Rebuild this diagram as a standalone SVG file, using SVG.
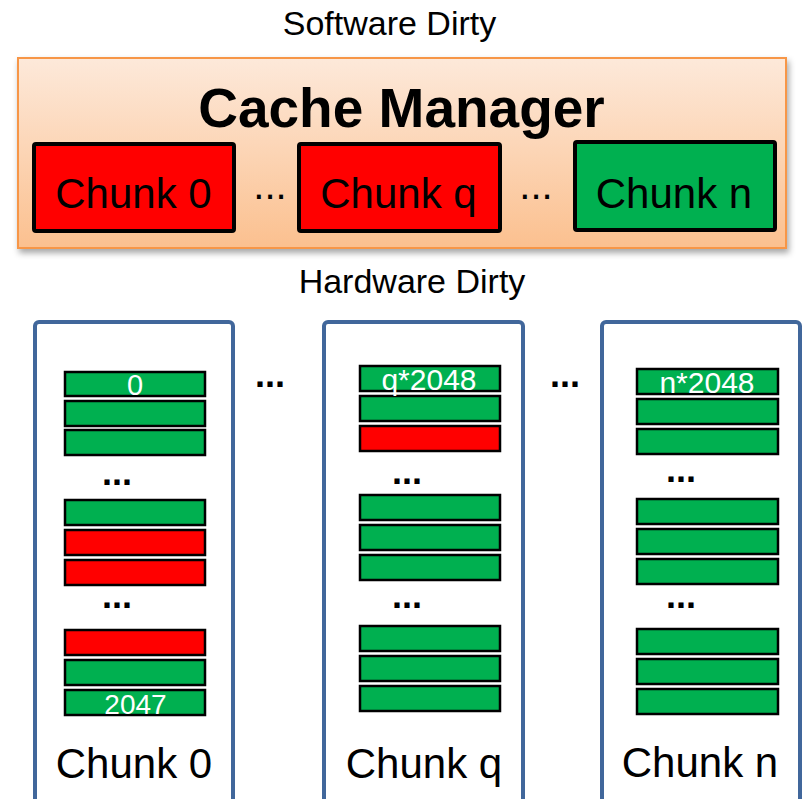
<svg xmlns="http://www.w3.org/2000/svg" width="805" height="799" viewBox="0 0 805 799">
  <defs>
    <linearGradient id="peach" x1="0" y1="0" x2="0" y2="1">
      <stop offset="0" stop-color="#fde9da"/>
      <stop offset="1" stop-color="#fbc08f"/>
    </linearGradient>
    <filter id="shadow" x="-5%" y="-10%" width="110%" height="130%">
      <feGaussianBlur in="SourceAlpha" stdDeviation="3"/>
      <feOffset dx="2" dy="4" result="b"/>
      <feFlood flood-color="#000" flood-opacity="0.35"/>
      <feComposite in2="b" operator="in"/>
      <feMerge><feMergeNode/><feMergeNode in="SourceGraphic"/></feMerge>
    </filter>
    <style>
      text { font-family: "Liberation Sans", Arial, sans-serif; fill: #000; }
      .title { font-size: 34px; text-anchor: middle; }
      .big { font-size: 55px; font-weight: bold; text-anchor: middle; }
      .chunk { font-size: 42px; text-anchor: middle; }
      .dots { font-size: 36px; font-weight: bold; text-anchor: middle; }
      .dots-top { font-size: 40px; text-anchor: middle; }
      .idx { font-size: 29px; text-anchor: middle; fill: #fff; }
      .sw { stroke: #000; stroke-width: 4; }
      .col { fill: #fff; stroke: #41679b; stroke-width: 4; }
      .g { fill: #00b050; stroke: #000; stroke-width: 2.5; }
      .r { fill: #ff0000; stroke: #000; stroke-width: 2.5; }
    </style>
  </defs>

  <rect width="805" height="799" fill="#fff"/>

  <!-- software side -->
  <text class="title" x="389.5" y="35">Software Dirty</text>

  <g id="cache-manager">
    <rect x="18" y="58" width="768" height="190" fill="url(#peach)" stroke="#f79646" stroke-width="2" filter="url(#shadow)"/>
    <text class="big" x="401.5" y="126.5">Cache Manager</text>
  </g>

  <g id="sw-chunk-0">
    <rect class="sw" x="34" y="144" width="200" height="87" rx="2" fill="#ff0000"/>
    <text class="chunk" x="133.5" y="208">Chunk 0</text>
  </g>
  <text class="dots-top" x="270" y="199">...</text>
  <g id="sw-chunk-q">
    <rect class="sw" x="299" y="144" width="201" height="87" rx="2" fill="#ff0000"/>
    <text class="chunk" x="398.5" y="208">Chunk q</text>
  </g>
  <text class="dots-top" x="536" y="199">...</text>
  <g id="sw-chunk-n">
    <rect class="sw" x="575" y="142" width="200" height="88" rx="2" fill="#00b050"/>
    <text class="chunk" x="674" y="208">Chunk n</text>
  </g>

  <!-- hardware side -->
  <text class="title" x="412" y="293">Hardware Dirty</text>

  <g id="hw-chunk-0">
    <rect class="col" x="35" y="322" width="198" height="500" rx="4"/>
    <rect class="g" x="65" y="372" width="140" height="24"/>
    <rect class="g" x="65" y="401" width="140" height="25"/>
    <rect class="g" x="65" y="430" width="140" height="25"/>
    <text class="idx" x="135" y="395">0</text>
    <text class="dots" x="117" y="485">...</text>
    <rect class="g" x="65" y="500" width="140" height="25"/>
    <rect class="r" x="65" y="530" width="140" height="25"/>
    <rect class="r" x="65" y="560" width="140" height="25"/>
    <text class="dots" x="117" y="608">...</text>
    <rect class="r" x="65" y="630" width="140" height="25"/>
    <rect class="g" x="65" y="660" width="140" height="25"/>
    <rect class="g" x="65" y="690" width="140" height="25"/>
    <text class="idx" x="135.5" y="714" style="font-size:28px">2047</text>
    <text class="chunk" x="134" y="778">Chunk 0</text>
  </g>

  <text class="dots" x="270" y="387">...</text>

  <g id="hw-chunk-q">
    <rect class="col" x="324" y="322" width="199" height="500" rx="4"/>
    <rect class="g" x="360" y="366" width="140" height="25"/>
    <rect class="g" x="360" y="396" width="140" height="25"/>
    <rect class="r" x="360" y="426" width="140" height="25"/>
    <text class="idx" x="429" y="390" style="font-size:30px">q*2048</text>
    <text class="dots" x="407" y="484">...</text>
    <rect class="g" x="360" y="495" width="140" height="25"/>
    <rect class="g" x="360" y="525" width="140" height="25"/>
    <rect class="g" x="360" y="555" width="140" height="25"/>
    <text class="dots" x="407" y="608">...</text>
    <rect class="g" x="360" y="626" width="140" height="25"/>
    <rect class="g" x="360" y="656" width="140" height="25"/>
    <rect class="g" x="360" y="686" width="140" height="25"/>
    <text class="chunk" x="424" y="778">Chunk q</text>
  </g>

  <text class="dots" x="565" y="387">...</text>

  <g id="hw-chunk-n">
    <rect class="col" x="602" y="322" width="198" height="500" rx="4"/>
    <rect class="g" x="637" y="369" width="141" height="25"/>
    <rect class="g" x="637" y="399" width="141" height="25"/>
    <rect class="g" x="637" y="429" width="141" height="25"/>
    <text class="idx" x="707" y="392.5" style="font-size:30px">n*2048</text>
    <text class="dots" x="681" y="482">...</text>
    <rect class="g" x="637" y="499" width="141" height="25"/>
    <rect class="g" x="637" y="529" width="141" height="25"/>
    <rect class="g" x="637" y="559" width="141" height="25"/>
    <text class="dots" x="681" y="608">...</text>
    <rect class="g" x="637" y="629" width="141" height="25"/>
    <rect class="g" x="637" y="659" width="141" height="25"/>
    <rect class="g" x="637" y="689" width="141" height="25"/>
    <text class="chunk" x="700" y="777">Chunk n</text>
  </g>
</svg>
